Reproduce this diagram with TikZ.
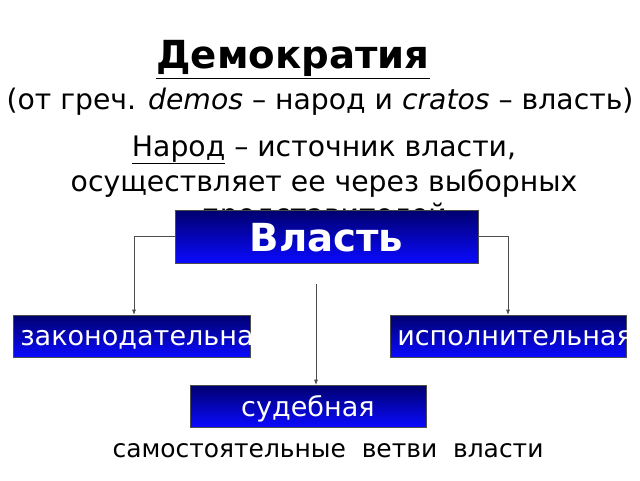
\documentclass[tikz,border=0pt]{standalone}
\usepackage{fontspec}
\setmainfont{DejaVu Sans}
\usetikzlibrary{arrows.meta}
\begin{document}
\begin{tikzpicture}[x=0.75pt,y=-0.75pt,
  box/.style={draw=black!70,line width=0.4pt,top color={rgb,255:red,0;green,0;blue,110},bottom color={rgb,255:red,10;green,10;blue,255}},
  conn/.style={draw=black!70,line width=0.6pt},
  arr/.style={conn,-{Latex[length=4pt,width=3pt]}},
  txt/.style={inner sep=0pt,anchor=base}]
\useasboundingbox (0,0) rectangle (640,480);
\node[txt,font=\fontsize{29}{34}\selectfont\bfseries] (title) at (293,68) {\underline{Демократия}};
\node[txt,font=\fontsize{21.2}{25}\selectfont] (sub) at (320,109) {(от греч. \textit{demos} – народ и \textit{cratos} – власть)};
\node[txt,font=\fontsize{21.2}{25}\selectfont] (l1) at (324,156) {\underline{Народ} – источник власти,};
\node[txt,font=\fontsize{21.2}{25}\selectfont] (l2) at (324,191) {осуществляет ее через выборных};
\node[txt,font=\fontsize{21.2}{25}\selectfont] (l3) at (324,224) {представителей};
\path[box] (175,210) rectangle (478,263);
\node[txt,font=\fontsize{29}{34}\selectfont\bfseries,text=white] (vl) at (326.5,251) {Власть};
\coordinate (vlW) at (175,236); \coordinate (vlE) at (478,236);
\path[box] (13,315) rectangle (250,357);
\begin{scope}\clip (13,315) rectangle (250,357);
\node[txt,anchor=base west,font=\fontsize{20.3}{25}\selectfont,text=white] (zak) at (20,345) {законодательная};
\end{scope}
\path[box] (390,315) rectangle (626,357);
\begin{scope}\clip (390,315) rectangle (626,357);
\node[txt,anchor=base west,font=\fontsize{20.3}{25}\selectfont,text=white] (isp) at (397,345) {исполнительная};
\end{scope}
\path[box] (190,385) rectangle (426,427);
\node[txt,font=\fontsize{20.3}{25}\selectfont,text=white] (sud) at (308,416) {судебная};
\coordinate (zakT) at (134,315); \coordinate (ispT) at (508,315);
\coordinate (midS) at (316,284); \coordinate (sudT) at (316,385);
\draw[arr] (vlW) -| (zakT);
\draw[arr] (vlE) -| (ispT);
\draw[arr] (midS) -- (sudT);
\node[txt,font=\fontsize{18.7}{22}\selectfont] (cap) at (328,457) {самостоятельные\ \ ветви\ \ власти};
\end{tikzpicture}
\end{document}
